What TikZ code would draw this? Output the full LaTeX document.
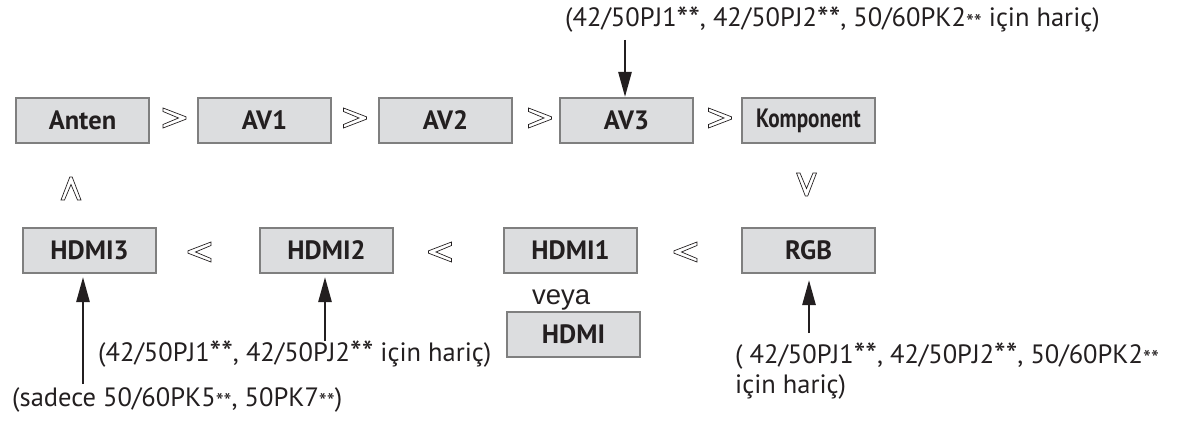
\documentclass[tikz,border=0pt]{standalone}
\usepackage{fontspec}
\setmainfont{PT Sans}
\newfontfamily\veyafont{Liberation Sans}
\usetikzlibrary{arrows.meta,calc}
\definecolor{txt}{HTML}{231F20}
\definecolor{boxfill}{HTML}{DCDDDF}
\definecolor{boxline}{HTML}{7F7F7F}
\newcommand\astl{\raisebox{-0.12em}{\scalebox{0.85}{*}}\raisebox{-0.12em}{\scalebox{0.85}{*}}}
\newcommand\asth{\raisebox{-0.12em}{\scalebox{1.25}{*}}\raisebox{-0.12em}{\scalebox{1.25}{*}}}
\tikzset{
 srcbox/.style={draw=boxline, line width=2pt, fill=boxfill, minimum width=133pt,
   minimum height=45pt, inner sep=0pt, font=\fontsize{26.5}{28}\selectfont\bfseries, text=txt},
 note/.style={font=\fontsize{26.5}{29.5}\selectfont, text=txt, inner sep=0pt, anchor=base west},
 conn/.style={line width=2.6pt, draw=txt, -{Triangle[length=25pt,width=13pt]}},
 symb/.style={draw=txt, line width=0.7pt, fill=white},
 chev/.pic={\draw[symb] (-11.5,-10) -- (11.5,-1.2) -- (11.5,1.2) -- (-11.5,10) -- (-11.5,6.5) -- (4,0) -- (-11.5,-6.5) -- cycle;}
}
\begin{document}
\begin{tikzpicture}[x=1pt,y=-1pt]
\useasboundingbox (0,0) rectangle (1186,422);
% top row
\node[srcbox] (Anten) at (82.5,120.5) {Anten};
\node[srcbox] (AV1) at (264.5,120.5) {AV1};
\node[srcbox] (AV2) at (445.5,120.5) {AV2};
\node[srcbox] (AV3) at (626.5,120.5) {AV3};
\node[srcbox] (Komp) at (808.5,120.5) {\scalebox{0.8}[1]{Komponent}};
% bottom row
\node[srcbox] (HDMI3) at (89.5,250.5) {HDMI3};
\node[srcbox] (HDMI2) at (326.5,250.5) {HDMI2};
\node[srcbox] (HDMI1) at (570.5,250.5) {HDMI1};
\node[srcbox] (RGB) at (808.5,250.5) {RGB};
\node[srcbox] (HDMI) at (573.5,334.5) {HDMI};
\node[font=\veyafont\fontsize{27.5}{30}\selectfont, text=txt, inner sep=0pt, anchor=base west] (veya) at (532,304) {veya};
% order symbols
\pic at (174.5,118) {chev};
\pic at (355,118) {chev};
\pic at (540,118) {chev};
\pic at (720,118) {chev};
\pic[rotate=-90] at (806.5,184.5) {chev};
\pic[rotate=180] at (685.5,252) {chev};
\pic[rotate=180] at (440,252) {chev};
\pic[rotate=180] at (199.5,252) {chev};
\pic[rotate=90] at (71,188.5) {chev};
% notes
\node[note] (ntop) at (565,27) {(42/50PJ1\asth, 42/50PJ2\asth, 50/60PK2\astl{} için hariç)};
\node[note] (nh2) at (98,361) {(42/50PJ1\asth, 42/50PJ2\asth{} için hariç)};
\node[note] (nh3) at (12,406) {(sadece 50/60PK5\astl, 50PK7\astl)};
\node[note, align=left, anchor=north west] (nrgb) at (735,343) {( 42/50PJ1\asth, 42/50PJ2\asth, 50/60PK2\astl\\için hariç)};
% arrows
\coordinate (p3) at (625,40);
\draw[conn] (p3) -- (p3 |- AV3.north);
\coordinate (q3) at (83,384);
\draw[conn, shorten >=3pt] (q3) -- (q3 |- HDMI3.south);
\coordinate (q2) at (325,341);
\draw[conn, shorten >=3pt] (q2) -- (q2 |- HDMI2.south);
\coordinate (qr) at (809,333);
\draw[conn, shorten >=6pt] (qr) -- (qr |- RGB.south);
\end{tikzpicture}
\end{document}
